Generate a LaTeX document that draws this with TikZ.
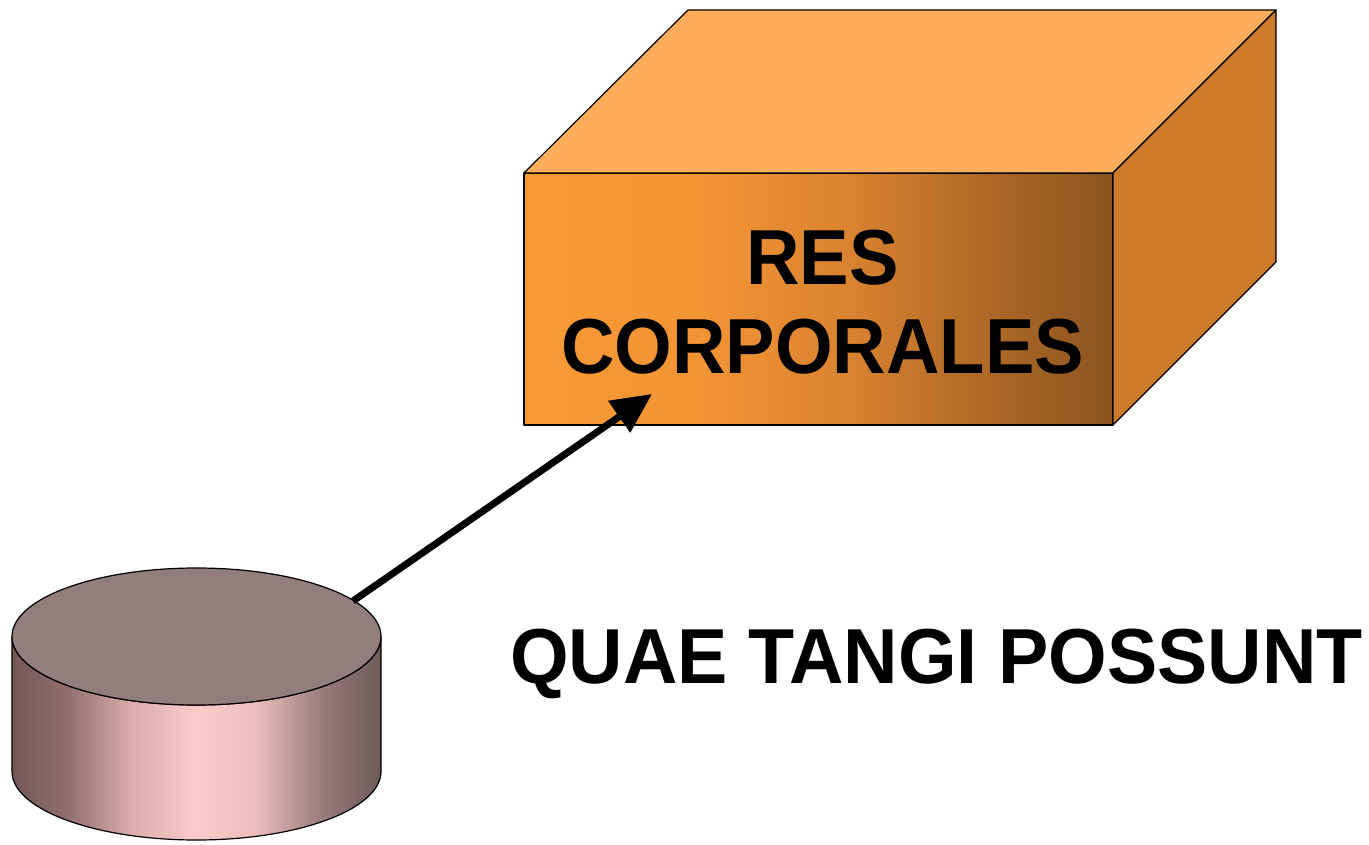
\documentclass[tikz,border=0pt]{standalone}
\usepackage{fontspec}
\newfontfamily\labelfont{Liberation Sans}[FakeStretch=0.95]
\newfontfamily\mottofont{Liberation Sans}[FakeStretch=0.966]
\usepackage{tikz}
\usetikzlibrary{arrows.meta}

\definecolor{boxtop}{RGB}{253,173,92}
\definecolor{boxside}{RGB}{204,122,42}
\definecolor{cyltop}{RGB}{147,126,126}
\pgfdeclarehorizontalshading{boxfront}{100bp}{%
  color(0bp)=(rgb,255:red,249;green,154;blue,54);
  color(25bp)=(rgb,255:red,249;green,154;blue,54);
  color(40bp)=(rgb,255:red,242;green,148;blue,52);
  color(52.5bp)=(rgb,255:red,217;green,131;blue,48);
  color(62.5bp)=(rgb,255:red,180;green,108;blue,40);
  color(75bp)=(rgb,255:red,138;green,84;blue,32);
  color(100bp)=(rgb,255:red,138;green,84;blue,32)}
\pgfdeclarehorizontalshading{cylside}{100bp}{%
  color(0bp)=(rgb,255:red,115;green,88;blue,88);
  color(25bp)=(rgb,255:red,115;green,88;blue,88);
  color(32.5bp)=(rgb,255:red,145;green,110;blue,110);
  color(41bp)=(rgb,255:red,218;green,172;blue,172);
  color(50bp)=(rgb,255:red,252;green,203;blue,203);
  color(58bp)=(rgb,255:red,236;green,190;blue,190);
  color(67bp)=(rgb,255:red,152;green,124;blue,124);
  color(75bp)=(rgb,255:red,110;green,90;blue,90);
  color(100bp)=(rgb,255:red,110;green,90;blue,90)}

\begin{document}
\begin{tikzpicture}[x=1pt,y=-1pt,
    face/.style={draw=black, line width=1.2pt, line join=round},
    front/.style={face, shading=boxfront, minimum width=589pt, minimum height=252pt,
      inner sep=0pt, outer sep=0pt},
    bigtext/.style={font=\labelfont\bfseries\fontsize{78}{89}\selectfont, inner sep=0pt},
    conn/.style={line width=7pt, -{Triangle[length=40pt,width=37pt]}}]
  \useasboundingbox (0,0) rectangle (1369,845);
  % Box
  \node[front] (resbox) at (818.5,299) {};
  \draw[face, fill=boxtop] (resbox.north west) -- ++(164,-163) -- ++(588,0)
    -- (resbox.north east) -- cycle;
  \draw[face, fill=boxside] (resbox.north east) -- ++(163,-163) -- ++(0,252)
    -- (resbox.south east) -- cycle;
  \node[bigtext, align=center] (reslabel) at (822.5,302) {RES\\CORPORALES};
  % Cylinder
  \draw[face, shading=cylside] (12,636.5) -- (12,771.5)
    arc[start angle=180, end angle=360, x radius=184.5pt, y radius=68.5pt]
    -- (381,636.5)
    arc[start angle=360, end angle=180, x radius=184.5pt, y radius=68.5pt] -- cycle;
  \draw[face, fill=cyltop] (196.5,636.5) ellipse[x radius=184.5pt, y radius=68.5pt];
  % Label
  \node[bigtext, font=\mottofont\bfseries\fontsize{78}{89}\selectfont, anchor=base]
    (quae) at (936.5,683) {QUAE TANGI POSSUNT};
  % Arrow
  \coordinate (cylrim) at (353,601);
  \coordinate (tip) at (652,394);
  \draw[conn] (cylrim) -- (tip);
\end{tikzpicture}
\end{document}
